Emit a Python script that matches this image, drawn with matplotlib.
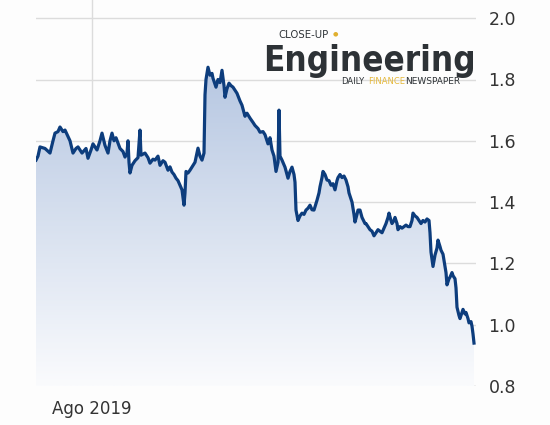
import numpy as np
import matplotlib.pyplot as plt
from matplotlib.colors import LinearSegmentedColormap

# day offsets from the start of the series, and price values
days = [0, 2, 4, 9, 14, 17, 19, 22, 24, 27, 29, 34, 37, 40, 42, 46, 50, 52, 55, 57,
        61, 64, 66, 69, 72, 74, 76, 78, 80, 84, 87, 89, 91, 92, 93, 94, 96, 99, 102, 104,
        105, 109, 112, 114, 117, 119, 122, 124, 127, 129, 132, 134, 136, 138, 140, 142, 144, 146, 148, 149,
        150, 152, 154, 157, 159, 161, 162, 164, 166, 168, 169, 170, 172, 174, 176, 177, 180, 182, 184, 186,
        188, 189, 191, 193, 195, 197, 199, 201, 204, 206, 209, 211, 214, 217, 219, 222, 224, 227, 229, 232,
        234, 236, 238, 240, 242, 243, 244, 246, 249, 252, 254, 256, 258, 259, 260, 262, 264, 266, 268, 270,
        272, 274, 276, 278, 281, 283, 284, 286, 287, 289, 291, 293, 295, 297, 299, 301, 302, 304, 306, 308,
        310, 312, 313, 315, 316, 318, 319, 321, 322, 324, 326, 329, 330, 332, 334, 336, 338, 340, 342, 344,
        346, 348, 350, 352, 353, 355, 356, 358, 359, 361, 362, 364, 366, 368, 370, 372, 374, 376, 377, 379,
        381, 383, 385, 387, 389, 391, 393, 394, 395, 397, 399, 401, 402, 404, 405, 407, 408, 410, 411, 413,
        414, 416, 417, 419, 420, 421, 423, 424, 426, 427, 429, 430, 432, 433, 435, 436, 437, 438]
prices = [1.537, 1.55, 1.58, 1.575, 1.56, 1.60, 1.625, 1.63, 1.645, 1.63, 1.635, 1.60, 1.56, 1.575, 1.58, 1.56, 1.575, 1.543, 1.57, 1.59,
          1.57, 1.60, 1.625, 1.585, 1.56, 1.60, 1.625, 1.60, 1.61, 1.575, 1.565, 1.547, 1.56, 1.60, 1.53, 1.495, 1.52, 1.535, 1.545, 1.635,
          1.553, 1.56, 1.545, 1.527, 1.54, 1.537, 1.55, 1.52, 1.535, 1.53, 1.504, 1.515, 1.498, 1.49, 1.478, 1.47, 1.455, 1.44, 1.39, 1.43,
          1.50, 1.495, 1.504, 1.52, 1.53, 1.56, 1.576, 1.55, 1.537, 1.56, 1.75, 1.80, 1.84, 1.814, 1.82, 1.804, 1.775, 1.80, 1.79, 1.83,
          1.78, 1.742, 1.77, 1.788, 1.78, 1.775, 1.765, 1.755, 1.73, 1.716, 1.68, 1.69, 1.674, 1.66, 1.65, 1.64, 1.628, 1.63, 1.62, 1.59,
          1.61, 1.57, 1.55, 1.50, 1.53, 1.70, 1.55, 1.537, 1.514, 1.478, 1.50, 1.514, 1.49, 1.465, 1.374, 1.34, 1.355, 1.364, 1.36, 1.374,
          1.38, 1.39, 1.375, 1.374, 1.406, 1.43, 1.45, 1.48, 1.50, 1.49, 1.472, 1.47, 1.455, 1.46, 1.44, 1.47, 1.48, 1.49, 1.48, 1.485,
          1.472, 1.45, 1.43, 1.41, 1.40, 1.36, 1.335, 1.36, 1.374, 1.374, 1.35, 1.33, 1.33, 1.32, 1.31, 1.305, 1.29, 1.30, 1.31, 1.305,
          1.30, 1.315, 1.33, 1.35, 1.364, 1.34, 1.33, 1.34, 1.35, 1.33, 1.31, 1.32, 1.315, 1.32, 1.325, 1.32, 1.32, 1.34, 1.364, 1.355,
          1.35, 1.34, 1.33, 1.34, 1.335, 1.345, 1.34, 1.30, 1.237, 1.19, 1.227, 1.25, 1.276, 1.255, 1.243, 1.23, 1.21, 1.17, 1.13, 1.15,
          1.155, 1.17, 1.16, 1.15, 1.12, 1.057, 1.03, 1.02, 1.04, 1.05, 1.035, 1.04, 1.02, 1.006, 1.01, 0.995, 0.97, 0.94]

yticks = [0.8, 1.0, 1.2, 1.4, 1.6, 1.8, 2.0]
xtick_pos = [56]
xtick_labels = ["Ago 2019"]

W, H = 550, 425
fig = plt.figure(figsize=(5.5, 4.25), dpi=100)
fig.patch.set_facecolor("#fdfdfd")
ax = fig.add_axes([36 / W, 1 - 386 / H, 440 / W, 386 / H])
ax.set_facecolor("#fdfdfd")

# 0.2 units = 61.3 px, axes top at the top of the figure
ymin, ymax = 0.8, 0.8 + 386 * 0.2 / 61.3
ax.set_xlim(0, 440)
ax.set_ylim(ymin, ymax)

# gradient fill under the line
cmap = LinearSegmentedColormap.from_list("fade", ["#fafbfd", "#a8bcdc"])
grad = np.linspace(0, 1, 256).reshape(-1, 1)
img = ax.imshow(grad, cmap=cmap, origin="lower", aspect="auto",
                extent=[0, 440, ymin, ymax], zorder=1)
poly = ax.fill_between(days, prices, ymin, color="none", lw=0)
img.set_clip_path(poly.get_paths()[0], transform=ax.transData)

ax.plot(days, prices, color="#0d3d7d", lw=2.3, zorder=3, solid_joinstyle="round")

# grid
for v in yticks:
    ax.axhline(v, color="#b8b8b8" if v == 0.8 else "#dcdcdc", lw=1.0, zorder=0.5)
for p in xtick_pos:
    ax.axvline(p, color="#dcdcdc", lw=1.0, zorder=0.5)

for s in ax.spines.values():
    s.set_visible(False)
ax.yaxis.tick_right()
ax.set_yticks(yticks)
ax.set_yticklabels([f"{v:.1f}" for v in yticks])
ax.set_xticks(xtick_pos)
ax.set_xticklabels(xtick_labels)
ax.tick_params(axis="y", length=0, pad=9, labelsize=12.5, labelcolor="#333333")
ax.tick_params(axis="x", length=0, pad=10, labelsize=12, labelcolor="#333333")

# logo text
def px(x, y):
    return x / W, 1 - y / H

fig.text(*px(278, 35), "CLOSE-UP", fontsize=7.3, color="#2d3236", va="center",
         family="DejaVu Sans")
fig.text(*px(333, 34), "\u25CF", fontsize=4.5, color="#e0b030", va="center")
fig.text(*px(263, 71), "Engineering", fontsize=25, fontweight="bold", color="#2d3236",
         va="baseline", family="DejaVu Sans", fontstretch="condensed")
fig.text(*px(341, 82), "DAILY", fontsize=6, color="#2d3236", va="center")
fig.text(*px(368, 82), "FINANCE", fontsize=6, color="#e5b83a", va="center")
fig.text(*px(405, 82), "NEWSPAPER", fontsize=6.5, color="#2d3236", va="center")

fig.savefig("out.png", dpi=100, facecolor=fig.get_facecolor())
